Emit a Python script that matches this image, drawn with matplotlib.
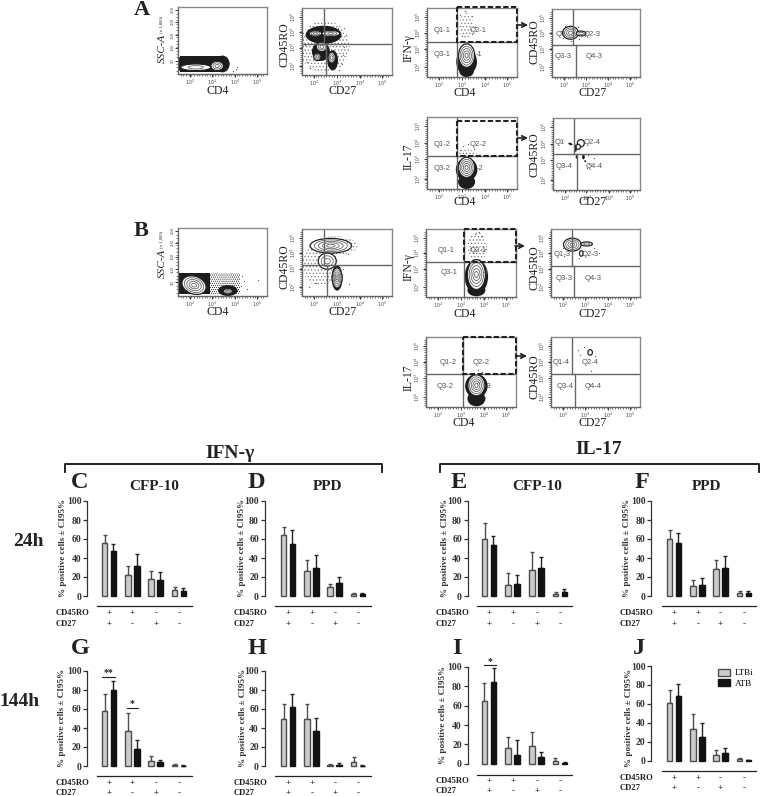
import matplotlib
matplotlib.use("Agg")
import matplotlib.pyplot as plt
from matplotlib.lines import Line2D
from matplotlib.patches import Ellipse, FancyArrowPatch, Patch, Rectangle

plt.rcParams['font.family'] = ['Liberation Serif', 'DejaVu Serif']
plt.rcParams['hatch.linewidth'] = 0.5

W, H = 760, 796

# bar values: mean and top of the error bar
phenotype_ro = ['+', '+', '-', '-']
phenotype_27 = ['+', '-', '+', '-']
yticks = [0, 20, 40, 60, 80, 100]

C_ltbi = [56, 22, 18, 6]
C_ltbi_top = [64, 32, 26, 10]
C_atb = [47, 32, 17, 5.5]
C_atb_top = [55, 44, 25, 8]

D_ltbi = [64, 26, 9, 2]
D_ltbi_top = [73, 38, 13, 3.5]
D_atb = [55, 30, 14, 2]
D_atb_top = [69, 43, 20, 3.5]

E_ltbi = [60, 12, 27, 2]
E_ltbi_top = [77, 24, 46, 4]
E_atb = [54, 13, 30, 4.5]
E_atb_top = [63, 22, 41, 7]

F_ltbi = [60, 11, 28, 3]
F_ltbi_top = [69, 17, 38, 5]
F_atb = [56, 12, 30, 3]
F_atb_top = [66, 19, 42, 5]

G_ltbi = [58, 37, 5, 1.5]
G_ltbi_top = [76, 56, 11, 2]
G_atb = [80, 18, 4, 0.5]
G_atb_top = [90, 27, 6, 1]

H_ltbi = [50, 50, 1.5, 4]
H_ltbi_top = [65, 65, 2, 9]
H_atb = [62, 37, 1.5, 0.5]
H_atb_top = [76, 51, 3, 1]

I_ltbi = [65, 16, 18, 3]
I_ltbi_top = [83, 28, 33, 6]
I_atb = [84, 9, 7, 0.8]
I_atb_top = [99, 24, 12, 1.5]

J_ltbi = [61, 33, 6, 2]
J_ltbi_top = [75, 49, 11, 3]
J_atb = [68, 25, 8, 0.5]
J_atb_top = [81, 40, 13, 1]

# flow plots: populations as (x, y, width, height, angle, contour levels), panel fractions
# dark = solid black cloud, stipple = loose dots, grain = dense dots, dots = stray events
A1_band = [(0.02, 0.03, 0.50, 0.24)]
A1_dark = [(0.03, 0.15, 0.07, 0.22, 0), (0.50, 0.15, 0.16, 0.25, 0)]
A1_blobs = [(0.20, 0.10, 0.34, 0.10, 0, 2), (0.44, 0.12, 0.14, 0.14, 0, 3)]
A1_dots = [(0.65, 0.08), (0.62, 0.05), (0.66, 0.11)]

A2_dark = [(0.24, 0.60, 0.40, 0.27, 0), (0.21, 0.35, 0.20, 0.28, 0), (0.34, 0.22, 0.12, 0.30, 0)]
A2_stipple = [(0.25, 0.42, 0.56, 0.78, 0)]
A2_blobs = [(0.15, 0.62, 0.14, 0.08, 0, 3), (0.32, 0.62, 0.20, 0.09, 0, 3),
            (0.17, 0.27, 0.08, 0.11, 0, 3), (0.22, 0.42, 0.12, 0.14, 0, 3),
            (0.33, 0.26, 0.08, 0.16, 0, 3)]
A2_dots = [(0.47, 0.70), (0.49, 0.60), (0.47, 0.42), (0.46, 0.30), (0.06, 0.20), (0.09, 0.10),
           (0.40, 0.70), (0.03, 0.45), (0.44, 0.16), (0.41, 0.08)]

A3_dark = [(0.44, 0.08, 0.16, 0.16, 0), (0.44, 0.22, 0.23, 0.38, 0)]
A3_stipple = [(0.44, 0.74, 0.16, 0.38, 0)]
A3_blobs = [(0.44, 0.31, 0.18, 0.34, 0, 5)]
A3_dots = [(0.37, 0.90), (0.42, 0.95), (0.50, 0.88), (0.39, 0.60), (0.50, 0.62), (0.53, 0.72)]

A4_blobs = [(0.21, 0.65, 0.18, 0.19, 0, 4), (0.33, 0.64, 0.11, 0.07, 0, 2)]
A4_dots = [(0.10, 0.68), (0.13, 0.58), (0.30, 0.73), (0.37, 0.60), (0.22, 0.53), (0.31, 0.56),
           (0.15, 0.75), (0.40, 0.68)]

A5_dark = [(0.44, 0.10, 0.19, 0.20, 0), (0.44, 0.27, 0.24, 0.32, 0)]
A5_stipple = [(0.44, 0.49, 0.22, 0.12, 0)]
A5_blobs = [(0.44, 0.30, 0.18, 0.28, 0, 5)]
A5_dots = [(0.40, 0.60), (0.45, 0.62), (0.52, 0.56), (0.37, 0.54)]

A6_dark = [(0.20, 0.64, 0.05, 0.03, 20), (0.26, 0.58, 0.03, 0.10, 0), (0.27, 0.46, 0.02, 0.05, 0),
           (0.35, 0.46, 0.03, 0.07, 0), (0.37, 0.40, 0.02, 0.03, 0)]
A6_blobs = [(0.32, 0.65, 0.08, 0.10, 0, 1), (0.29, 0.60, 0.05, 0.07, 0, 1)]
A6_dots = [(0.41, 0.36), (0.40, 0.48), (0.47, 0.45), (0.39, 0.30)]

B1_band = [(0.0, 0.03, 0.36, 0.31)]
B1_grain = [(0.36, 0.03, 0.34, 0.31)]
B1_dark = [(0.56, 0.08, 0.22, 0.16, 0)]
B1_blobs = [(0.18, 0.16, 0.28, 0.26, 20, 5), (0.56, 0.07, 0.10, 0.08, 0, 3)]
B1_dots = [(0.72, 0.30), (0.74, 0.22), (0.71, 0.15), (0.90, 0.24), (0.78, 0.10)]

B2_stipple = [(0.20, 0.48, 0.40, 0.66, 0), (0.37, 0.75, 0.50, 0.28, 0)]
B2_blobs = [(0.32, 0.75, 0.46, 0.22, 0, 5), (0.39, 0.27, 0.11, 0.30, 0, 5), (0.28, 0.52, 0.20, 0.24, 0, 3)]
B2_dark = [(0.39, 0.27, 0.12, 0.38, 0)]
B2_dots = [(0.50, 0.80), (0.51, 0.62), (0.46, 0.40), (0.08, 0.14), (0.15, 0.20), (0.52, 0.18)]

B3_dark = [(0.56, 0.10, 0.20, 0.18, 0), (0.56, 0.30, 0.26, 0.50, 0)]
B3_stipple = [(0.57, 0.73, 0.22, 0.44, 0)]
B3_blobs = [(0.56, 0.33, 0.20, 0.44, 0, 5)]
B3_dots = [(0.54, 0.92), (0.62, 0.89), (0.50, 0.72), (0.67, 0.70), (0.59, 0.95)]

B4_blobs = [(0.24, 0.77, 0.20, 0.19, 0, 4), (0.40, 0.78, 0.13, 0.06, 0, 2), (0.34, 0.64, 0.04, 0.08, 0, 1)]
B4_dots = [(0.13, 0.72), (0.48, 0.72), (0.54, 0.65), (0.32, 0.58), (0.15, 0.60)]

B5_dark = [(0.56, 0.12, 0.20, 0.22, 0), (0.56, 0.30, 0.25, 0.34, 0)]
B5_blobs = [(0.56, 0.31, 0.19, 0.30, 0, 5)]
B5_dots = [(0.52, 0.48), (0.62, 0.50), (0.70, 0.32), (0.58, 0.53)]

B6_blobs = [(0.44, 0.78, 0.05, 0.08, 0, 1)]
B6_dots = [(0.30, 0.82), (0.33, 0.74), (0.37, 0.86), (0.49, 0.73), (0.45, 0.52), (0.43, 0.33)]

fig = plt.figure(figsize=(W / 100, H / 100), dpi=100)


def px_axes(x0, y0, x1, y1):
    return fig.add_axes([x0 / W, 1 - y1 / H, (x1 - x0) / W, (y1 - y0) / H])


def txt(x, y, s, **kw):
    kw.setdefault('ha', 'center')
    kw.setdefault('va', 'center')
    kw.setdefault('color', '#222222')
    fig.text(x / W, 1 - y / H, s, **kw)


def pxline(xs, ys, **kw):
    fig.add_artist(Line2D([x / W for x in xs], [1 - y / H for y in ys], **kw))


def flow_panel(rect, vline, hline, quad, dashed=None, dark=(), stipple=(), blobs=(), dots=(),
               band=(), grain=(), ssc=False):
    x0, y0, x1, y1 = rect
    ax = px_axes(x0, y0, x1, y1)
    ax.set_xlim(x0, x1)
    ax.set_ylim(y1, y0)
    fx = lambda v: x0 + v * (x1 - x0)
    fy = lambda v: y1 - v * (y1 - y0)

    for s in ax.spines.values():
        s.set_color('#666666')
        s.set_linewidth(1.0)
    ax.spines['top'].set_color('#888888')
    ax.spines['right'].set_color('#888888')

    for bx, by, bw, bh in band:
        ax.add_patch(Rectangle((fx(bx), fy(by + bh)), bw * (x1 - x0), bh * (y1 - y0), fc='#1c1c1c', ec='none'))
    for bx, by, bw, bh in grain:
        ax.add_patch(Rectangle((fx(bx), fy(by + bh)), bw * (x1 - x0), bh * (y1 - y0), fc='white',
                               ec='#222222', hatch='........', lw=0))
    for cx, cy, w, h, a in stipple:
        ax.add_patch(Ellipse((fx(cx), fy(cy)), w * (x1 - x0), h * (y1 - y0), angle=a, fc='white',
                             ec='#777777', hatch='.....', lw=0))
    for cx, cy, w, h, a in dark:
        ax.add_patch(Ellipse((fx(cx), fy(cy)), w * (x1 - x0), h * (y1 - y0), angle=a, fc='#1c1c1c', ec='none'))
    for cx, cy, w, h, a, n in blobs:
        ax.add_patch(Ellipse((fx(cx), fy(cy)), w * (x1 - x0), h * (y1 - y0), angle=a, fc='white', ec='#222222', lw=0.9))
        for i in range(1, n):
            k = 1 - i / n
            ax.add_patch(Ellipse((fx(cx), fy(cy)), k * w * (x1 - x0), k * h * (y1 - y0), angle=a,
                                 fc='none', ec='#666666', lw=0.6))
    if dots:
        ax.scatter([fx(d[0]) for d in dots], [fy(d[1]) for d in dots], s=0.8, c='#555555', lw=0)

    # quadrant gates, the vertical one kinks at the horizontal
    vt, vb, hy = vline[0], vline[1], hline
    if vt is not None:
        ax.plot([vt, vt], [y0, hy], color='#666666', lw=1.0)
        ax.plot([vb, vb], [hy, y1], color='#666666', lw=1.0)
        ax.plot([x0, x1], [hy, hy], color='#666666', lw=1.0)
    if dashed:
        ax.add_patch(Rectangle((dashed[0], dashed[1]), dashed[2] - dashed[0], dashed[3] - dashed[1],
                               fc='none', ec='#222222', lw=1.5, ls=(0, (2.5, 1.2)), zorder=6, clip_on=False))
    for qx, qy, s in quad:
        ax.text(qx, qy, s, ha='center', va='center', fontsize=5.5, color='#555555',
                family=['Liberation Sans'], zorder=7)

    xt = [fx(v) for v in (0.135, 0.385, 0.64, 0.89)]
    ax.set_xticks(xt)
    ax.set_xticklabels([r'$10^{%d}$' % i for i in (2, 3, 4, 5)], fontsize=3.4, color='#444444')
    minor = [fx(0.03 * i) for i in range(1, 33)]
    ax.set_xticks(minor, minor=True)
    if ssc:
        yt = [fy(v) for v in (0.2, 0.39, 0.58, 0.78, 0.96)]
        ax.set_yticks(yt)
        ax.set_yticklabels(['50', '100', '150', '200', '250'], fontsize=3.4, rotation=90, va='center', color='#444444')
        ax.set_yticks([fy(v / 20) for v in range(1, 20)], minor=True)
    else:
        yt = [fy(v) for v in (0.14, 0.41, 0.64, 0.87)]
        ax.set_yticks(yt)
        ax.set_yticklabels([r'$10^{%d}$' % i for i in (2, 3, 4, 5)], fontsize=3.4, rotation=90, va='center', color='#444444')
        ax.set_yticks([fy(0.03 * i) for i in range(1, 33)], minor=True)
    ax.tick_params(which='major', length=2.2, width=0.7, pad=0.4, color='#333333')
    ax.tick_params(which='minor', length=1.2, width=0.5, color='#444444')


def ax_label(x, y, s, rot=0):
    txt(x, y, s, fontsize=8.5, rotation=rot)


def arrow(x, y):
    fig.add_artist(FancyArrowPatch(((x - 5) / W, 1 - y / H), ((x + 5) / W, 1 - y / H), transform=fig.transFigure,
                                   arrowstyle='->', mutation_scale=8, lw=1.2, color='#222222',
                                   shrinkA=0, shrinkB=0))


def bar_panel(axis_x, y100, y0, line_y, line_x, groups, rows_y, label_x, ylab_x, ylab_y, ltbi, ltbi_top, atb, atb_top,
              off=4.4):
    sp = (groups[3] - groups[0]) / 3
    ax = px_axes(axis_x, y100, line_x[1], y0)
    ax.set_xlim(-(groups[0] - axis_x) / sp, (line_x[1] - groups[0]) / sp)
    ax.set_ylim(0, 100)
    ax.patch.set_alpha(0)
    d = off / sp
    w = 5.6 / sp
    pos = list(range(4))
    ax.bar([p - d for p in pos], ltbi, w, color='#cccccc', edgecolor='#4d4d4d', lw=1.0, clip_on=False, zorder=3)
    ax.bar([p + d for p in pos], atb, w, color='#121212', edgecolor='#121212', lw=1.0, clip_on=False, zorder=3)
    ax.errorbar([p - d for p in pos], ltbi, yerr=[[0] * 4, [t - v for t, v in zip(ltbi_top, ltbi)]], fmt='none',
                ecolor='#4d4d4d', elinewidth=1.0, capsize=1.6, capthick=1.0, clip_on=False, zorder=2)
    ax.errorbar([p + d for p in pos], atb, yerr=[[0] * 4, [t - v for t, v in zip(atb_top, atb)]], fmt='none',
                ecolor='#222222', elinewidth=1.0, capsize=1.6, capthick=1.0, clip_on=False, zorder=2)
    for s in ('top', 'right', 'bottom'):
        ax.spines[s].set_visible(False)
    ax.spines['left'].set_linewidth(0.9)
    ax.spines['left'].set_color('#333333')
    ax.set_xticks([])
    ax.set_yticks(yticks)
    ax.tick_params(axis='y', length=3, width=0.9, pad=1, color='#333333')
    for t in ax.get_yticklabels():
        t.set_fontsize(7)
        t.set_fontweight('bold')
        t.set_color('#333333')
    pxline(line_x, [line_y, line_y], color='#222222', lw=0.9)
    txt(label_x, rows_y[0], 'CD45RO', ha='left', fontsize=6.2, fontweight='bold')
    txt(label_x, rows_y[1], 'CD27', ha='left', fontsize=6.2, fontweight='bold')
    for g, a, b in zip(groups, phenotype_ro, phenotype_27):
        txt(g, rows_y[0], a, fontsize=6.5, fontweight='bold', color='#333333')
        txt(g, rows_y[1], b, fontsize=6.5, fontweight='bold', color='#333333')
    txt(ylab_x, ylab_y, '% positive cells \u00b1 CI95%', rotation=90, fontsize=6.6, fontweight='bold', color='#333333')
    return ax


# top flow plots, panel A
flow_panel((178, 7, 267, 74), (None, None), None, [], band=A1_band, dark=A1_dark, blobs=A1_blobs, dots=A1_dots, ssc=True)
flow_panel((302, 8, 392, 75), (324, 326), 44, [], dark=A2_dark, stipple=A2_stipple, blobs=A2_blobs, dots=A2_dots)
flow_panel((427, 8, 517, 77), (457, 457), 42,
           [(442, 31, 'Q1-1'), (478, 31, 'Q2-1'), (442, 54, 'Q3-1'), (479, 54, '-1')],
           dashed=(457, 7, 517, 42), dark=A3_dark, stipple=A3_stipple, blobs=A3_blobs, dots=A3_dots)
flow_panel((552, 9, 640, 77), (573, 576), 45,
           [(561, 34, 'Q1'), (592, 35, 'Q2-3'), (563, 57, 'Q3-3'), (594, 57, 'Q4-3')],
           blobs=A4_blobs, dots=A4_dots)
flow_panel((427, 117, 517, 189), (457, 457), 156,
           [(442, 145, 'Q1-2'), (478, 145, 'Q2-2'), (442, 168, 'Q3-2'), (480, 168, '-2')],
           dashed=(457, 121, 517, 156), dark=A5_dark, stipple=A5_stipple, blobs=A5_blobs, dots=A5_dots)
flow_panel((553, 118, 640, 190), (574, 577), 154,
           [(560, 143, 'Q1'), (592, 143, 'Q2-4'), (564, 166, 'Q3-4'), (594, 167, 'Q4-4')],
           dark=A6_dark, blobs=A6_blobs, dots=A6_dots)

# panel B
flow_panel((178, 228, 267, 296), (None, None), None, [], band=B1_band, grain=B1_grain, dark=B1_dark, blobs=B1_blobs,
           dots=B1_dots, ssc=True)
flow_panel((302, 229, 392, 296), (324, 327), 265, [], dark=B2_dark, stipple=B2_stipple, blobs=B2_blobs, dots=B2_dots)
flow_panel((426, 229, 516, 297), (464, 464), 262,
           [(446, 250, 'Q1-1'), (478, 250, 'Q2-1'), (449, 273, 'Q3-1'), (486, 273, '-1')],
           dashed=(464, 229, 516, 262), dark=B3_dark, stipple=B3_stipple, blobs=B3_blobs, dots=B3_dots)
flow_panel((551, 229, 640, 297), (572, 574), 266,
           [(562, 255, 'Q1-3'), (590, 255, 'Q2-3'), (564, 278, 'Q3-3'), (593, 278, 'Q4-3')],
           blobs=B4_blobs, dots=B4_dots)
flow_panel((426, 337, 516, 407), (463, 463), 374,
           [(448, 363, 'Q1-2'), (481, 363, 'Q2-2'), (445, 386, 'Q3-2'), (488, 386, '-2')],
           dashed=(463, 337, 516, 374), dark=B5_dark, blobs=B5_blobs, dots=B5_dots)
flow_panel((551, 337, 640, 407), (572, 575), 374,
           [(561, 363, 'Q1-4'), (590, 363, 'Q2-4'), (565, 386, 'Q3-4'), (593, 386, 'Q4-4')],
           blobs=B6_blobs, dots=B6_dots)

# flow plot axis names
for x, y in [(218, 91), (218, 312), (465, 93), (465, 202), (465, 314), (464, 423)]:
    ax_label(x, y, 'CD4')
for x, y in [(343, 91), (343, 312), (593, 93), (593, 202), (593, 314), (593, 423)]:
    ax_label(x, y, 'CD27')
for x, y in [(285, 45), (285, 267), (534, 42), (535, 155), (535, 268), (535, 377)]:
    ax_label(x, y, 'CD45RO', 90)
for x, y in [(409, 48), (409, 267)]:
    ax_label(x, y, 'IFN-\u03b3', 90)
for x, y in [(409, 157), (409, 378)]:
    ax_label(x, y, 'IL-17', 90)
for y in (48, 263):
    txt(162, y, 'SSC-A', fontsize=8, rotation=90, style='italic')
    txt(162, y - 24, '(x 1,000)', fontsize=3.4, rotation=90)
for x, y in [(523, 25), (523, 138), (520, 246), (522, 356)]:
    arrow(x, y)

txt(142, 10, 'A', fontsize=16, fontweight='bold')
txt(141, 231, 'B', fontsize=16, fontweight='bold')

# group brackets and headings
pxline([65, 65, 382, 382], [472, 464, 464, 472], color='#111111', lw=1.3)
pxline([440, 440, 759, 759], [472, 464, 464, 472], color='#111111', lw=1.3)
txt(230, 453, 'IFN-\u03b3', fontsize=14, fontweight='bold')
txt(599, 450, 'IL-17', fontsize=14, fontweight='bold')
txt(28, 541, '24h', fontsize=14, fontweight='bold')
txt(19.5, 701, '144h', fontsize=14, fontweight='bold')

for x, y, s in [(80, 483, 'C'), (256, 483, 'D'), (459, 483, 'E'), (642, 483, 'F'),
                (80, 649, 'G'), (257, 649, 'H'), (457, 649, 'I'), (639, 649, 'J')]:
    txt(x, y, s, fontsize=17.5, fontweight='bold')
for x, y, s in [(154, 487, 'CFP-10'), (328, 487, 'PPD'), (537, 486, 'CFP-10'), (707, 486, 'PPD')]:
    txt(x, y, s, fontsize=11, fontweight='bold')

# bar panels
col_c = dict(axis_x=87, line_x=(97, 192), groups=(109, 132, 156, 179), label_x=56)
col_d = dict(axis_x=264.5, line_x=(275, 371), groups=(288, 312, 335, 358), label_x=234)
col_e = dict(axis_x=467.5, line_x=(477, 572), groups=(489, 513, 537, 560), label_x=436)
col_f = dict(axis_x=651, line_x=(662, 756), groups=(674, 698, 720, 744), label_x=620)

bar_panel(y100=501, y0=596, line_y=605.7, rows_y=(613, 624), ylab_x=63, ylab_y=548,
          ltbi=C_ltbi, ltbi_top=C_ltbi_top, atb=C_atb, atb_top=C_atb_top, **col_c)
bar_panel(y100=501, y0=596, line_y=605.7, rows_y=(613, 624), ylab_x=242, ylab_y=548,
          ltbi=D_ltbi, ltbi_top=D_ltbi_top, atb=D_atb, atb_top=D_atb_top, **col_d)
bar_panel(y100=501, y0=596, line_y=605.7, rows_y=(613, 624), ylab_x=445, ylab_y=548,
          ltbi=E_ltbi, ltbi_top=E_ltbi_top, atb=E_atb, atb_top=E_atb_top, **col_e)
bar_panel(y100=501, y0=596, line_y=605.7, rows_y=(613, 624), ylab_x=627, ylab_y=548,
          ltbi=F_ltbi, ltbi_top=F_ltbi_top, atb=F_atb, atb_top=F_atb_top, **col_f)
bar_panel(y100=671, y0=766, line_y=776, rows_y=(783, 793), ylab_x=62, ylab_y=718,
          ltbi=G_ltbi, ltbi_top=G_ltbi_top, atb=G_atb, atb_top=G_atb_top, **col_c)
bar_panel(y100=671, y0=766, line_y=776, rows_y=(783, 793), ylab_x=243, ylab_y=718,
          ltbi=H_ltbi, ltbi_top=H_ltbi_top, atb=H_atb, atb_top=H_atb_top, **col_d)
bar_panel(y100=667, y0=763.7, line_y=774.7, rows_y=(781, 791), ylab_x=443, ylab_y=715, off=4.6,
          ltbi=I_ltbi, ltbi_top=I_ltbi_top, atb=I_atb, atb_top=I_atb_top, **col_e)
ax_j = bar_panel(y100=666, y0=760.7, line_y=770.7, rows_y=(777.7, 788), ylab_x=629, ylab_y=718,
                 ltbi=J_ltbi, ltbi_top=J_ltbi_top, atb=J_atb, atb_top=J_atb_top, **col_f)

# significance bars
pxline([102, 115], [677, 677], color='#222222', lw=0.8)
txt(108.5, 673, '**', fontsize=7, fontweight='bold')
pxline([127, 138], [708, 708], color='#222222', lw=0.8)
txt(132.5, 704, '*', fontsize=7, fontweight='bold')
pxline([484, 496], [665, 665], color='#222222', lw=0.8)
txt(490, 661.5, '*', fontsize=7, fontweight='bold')

handles = [Patch(fc='#cccccc', ec='#4d4d4d', lw=1, label='LTBi'), Patch(fc='#121212', ec='#121212', lw=1, label='ATB')]
ax_j.legend(handles=handles, loc='upper left', bbox_to_anchor=(715 / W, 1 - 666 / H), bbox_transform=fig.transFigure,
            frameon=False, prop={'size': 6.6}, handlelength=1.3, handleheight=0.8, labelspacing=0.2, handletextpad=0.6,
            borderpad=0.3, borderaxespad=0)

plt.savefig('out.png', dpi=100)
